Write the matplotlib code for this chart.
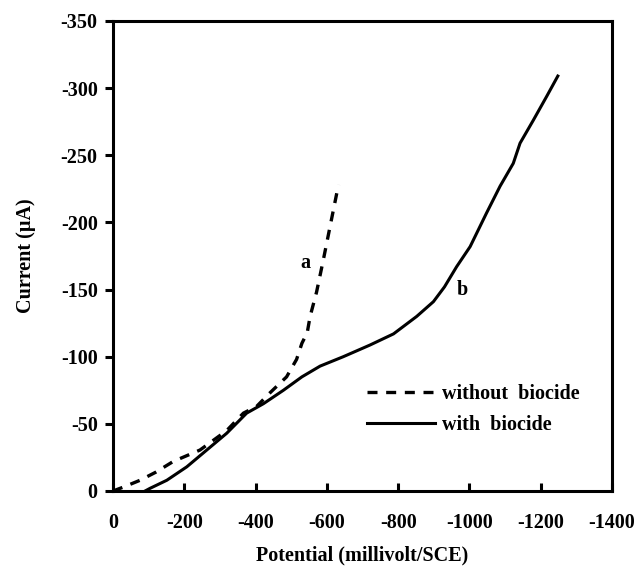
import matplotlib
matplotlib.use("Agg")
import matplotlib.pyplot as plt

plt.rcParams['font.family'] = ['Liberation Serif', 'DejaVu Serif']
plt.rcParams['font.weight'] = 'bold'
plt.rcParams['axes.unicode_minus'] = False

# Curve a: without biocide
pot_a = [0, -30, -76, -120, -169, -244, -319, -366, -403, -440, -487, -515, -530,
         -545, -553, -571, -590, -609, -628, -634]
cur_a = [0, -3, -8, -14, -22, -30.5, -45, -58, -63, -73, -85, -98, -110,
         -118, -130, -148, -172, -197, -222, -228]

# Curve b: with biocide
pot_b = [-90, -104, -151, -207, -263, -319, -375, -422, -478, -530, -581, -646,
         -721, -787, -852, -899, -930, -964, -1002, -1048, -1086, -1123, -1142,
         -1179, -1217, -1248]
cur_b = [0, -2, -8, -18, -30.5, -43, -58, -65, -75, -85, -93, -100,
         -108.7, -117, -130, -141, -152, -167, -182, -207, -227, -244, -259,
         -276, -294, -309]

xticks = [0, -200, -400, -600, -800, -1000, -1200, -1400]
yticks = [0, -50, -100, -150, -200, -250, -300, -350]

FS = 14.5

fig = plt.figure(figsize=(6.34, 5.68), dpi=100)
ax = fig.add_axes([113/634, 77/568, 499/634, 470/568])

ax.plot(pot_a, cur_a, color='black', lw=2.4, dashes=(3.0, 2.6),
        label='without  biocide')
ax.plot(pot_b, cur_b, color='black', lw=2.2, label='with  biocide')

ax.set_xlim(0, -1400)
ax.set_ylim(0, -350)
ax.set_xticks(xticks)
ax.set_yticks(yticks)
ax.set_xticklabels([str(v) for v in xticks])
ax.set_yticklabels([str(v) for v in yticks])

for s in ax.spines.values():
    s.set_linewidth(2.2)
ax.tick_params(axis='x', direction='in', length=6, width=2.2, labelsize=FS, pad=16)
ax.tick_params(axis='y', direction='out', length=6, width=2.2, labelsize=FS, pad=5)
for lab in ax.get_xticklabels() + ax.get_yticklabels():
    lab.set_fontweight('bold')

ax.set_xlabel('Potential (millivolt/SCE)', fontsize=FS, fontweight='bold', labelpad=9)
ax.set_ylabel('Current (µA)', fontsize=FS, fontweight='bold', labelpad=18)

ax.text(-541, -170, 'a', fontsize=FS, fontweight='bold', ha='center', va='center')
ax.text(-981, -150, 'b', fontsize=FS, fontweight='bold', ha='center', va='center')

ax.legend(loc='upper left', bbox_to_anchor=(0.509, 0.228), frameon=False,
          borderpad=0, borderaxespad=0, handlelength=3.4, handletextpad=0.3,
          labelspacing=0.55, prop={'size': FS, 'weight': 'bold'})

fig.savefig('out.png', dpi=100)
